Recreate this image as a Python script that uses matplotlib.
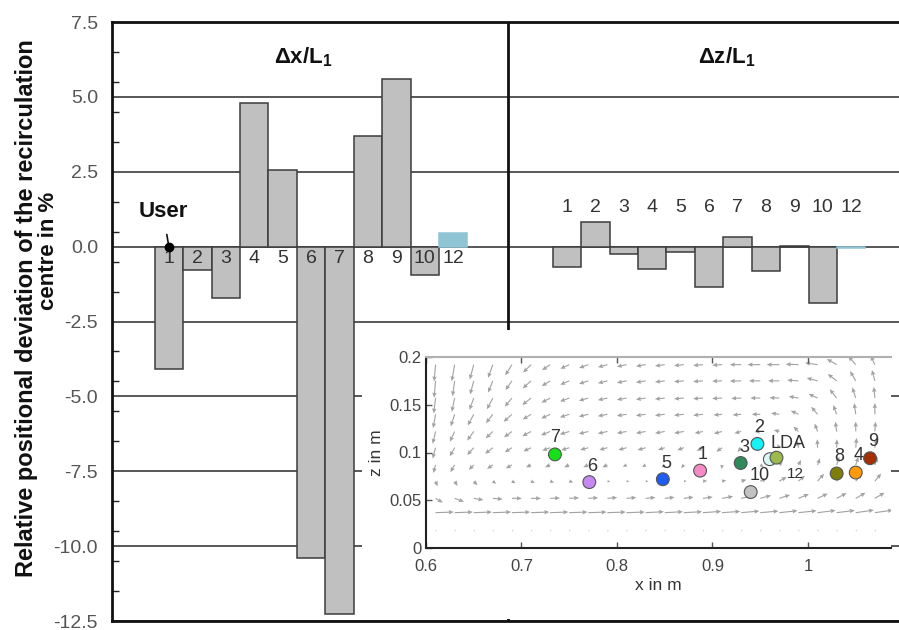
import numpy as np
import matplotlib
matplotlib.use("Agg")
import matplotlib.pyplot as plt

plt.rcParams['font.family'] = ['Liberation Sans', 'DejaVu Sans']
plt.rcParams['axes.unicode_minus'] = False
plt.rcParams['mathtext.fontset'] = 'custom'
plt.rcParams['mathtext.rm'] = 'Liberation Sans'
plt.rcParams['mathtext.it'] = 'Liberation Sans:italic'
plt.rcParams['mathtext.bf'] = 'Liberation Sans:bold'

# ---------------------------------------------------------------- data
cases = ['1', '2', '3', '4', '5', '6', '7', '8', '9', '10', '12']
dx_pct = [-4.10, -0.78, -1.70, 4.79, 2.56, -10.39, -12.28, 3.70, 5.60, -0.95, 0.45]
dz_pct = [-0.67, 0.83, -0.25, -0.76, -0.18, -1.34, 0.33, -0.81, 0.03, -1.89, -0.04]
reference_case = '12'
y_ticks = [7.5, 5.0, 2.5, 0.0, -2.5, -5.0, -7.5, -10.0, -12.5]

# recirculation centres found by each participant (x, z in m)
centre_labels = ['1', '2', '3', '4', '5', '6', '7', '8', '9', '10', '12', 'LDA']
centre_x = [0.887, 0.947, 0.9295, 1.050, 0.848, 0.771, 0.735, 1.030, 1.065, 0.940, 0.960, 0.967]
centre_z = [0.081, 0.109, 0.089, 0.079, 0.072, 0.069, 0.098, 0.078, 0.094, 0.0586, 0.093, 0.0946]
centre_colors = ['#f58ac6', '#14f2f6', '#2f8a5a', '#ff9a0a', '#1f5cf0', '#c48af2',
                 '#16e016', '#7f7f06', '#a32f02', '#c2c2c2', '#d8f6f6', '#9cba4c']

# measured LDA velocity field (direction in degrees, arrow length)
field_x = [0.61, 0.63, 0.65, 0.67, 0.69, 0.71, 0.73, 0.75, 0.77, 0.79, 0.81, 0.83,
           0.85, 0.87, 0.89, 0.91, 0.93, 0.95, 0.97, 0.99, 1.01, 1.03, 1.05, 1.07]
field_z = [0.192, 0.175, 0.157, 0.140, 0.122, 0.105, 0.087, 0.070, 0.052, 0.037, 0.018]
field_dir = [
    [265, 260, 255, 250, 238, 225, 215, 205, 200, 195, 192, 190, 188, 186, 185, 183, 180, 180, 180, 178, 172, 150, 132, 115],
    [265, 262, 255, 248, 235, 222, 212, 203, 198, 194, 191, 189, 187, 185, 184, 182, 181, 180, 180, 176, 165, 142, 120, 105],
    [263, 258, 250, 242, 230, 218, 208, 200, 196, 192, 190, 188, 186, 185, 184, 183, 182, 180, 178, 170, 155, 128, 108, 95],
    [260, 252, 242, 232, 222, 212, 205, 198, 194, 191, 189, 188, 187, 186, 186, 186, 185, 180, 172, 155, 130, 110, 98, 90],
    [257, 245, 234, 224, 216, 208, 202, 197, 194, 192, 190, 190, 190, 190, 192, 195, 195, 185, 165, 135, 110, 97, 90, 86],
    [255, 240, 228, 218, 212, 205, 200, 197, 195, 195, 195, 196, 198, 200, 205, 215, 230, 210, 120, 100, 92, 88, 85, 82],
    [255, 240, 225, 215, 210, 205, 205, 205, 205, 205, 208, 212, 220, 230, 245, 265, 290, 330, 40, 62, 70, 72, 72, 70],
    [290, 300, 310, 320, 330, 335, 340, 345, 348, 350, 352, 355, 355, 0, 5, 10, 15, 20, 30, 40, 48, 52, 52, 50],
    [330, 340, 350, 355, 0, 0, 2, 3, 4, 5, 5, 5, 6, 7, 8, 10, 12, 15, 18, 22, 25, 28, 30, 30],
    [2, 2, 2, 2, 2, 2, 2, 2, 2, 2, 2, 3, 3, 3, 4, 4, 5, 5, 6, 6, 7, 7, 8, 8],
    [0, 0, 0, 0, 0, 0, 0, 0, 0, 0, 0, 0, 0, 0, 0, 0, 0, 0, 0, 0, 0, 0, 0, 0],
]
field_len = [
    [12, 12, 11, 10, 9, 8, 7, 7, 7, 7, 7, 7, 7, 7, 7, 7, 8, 9, 9, 9, 9, 8, 8, 7],
    [12, 11, 10, 9, 8, 8, 7, 7, 7, 7, 7, 7, 7, 7, 7, 7, 8, 8, 8, 8, 8, 8, 8, 8],
    [11, 10, 9, 9, 8, 8, 7, 7, 7, 7, 7, 7, 7, 7, 7, 7, 7, 7, 7, 7, 7, 8, 8, 8],
    [10, 9, 9, 8, 8, 7, 7, 7, 7, 7, 7, 7, 7, 7, 7, 6, 6, 6, 6, 6, 7, 7, 8, 8],
    [9, 8, 8, 7, 7, 7, 7, 7, 7, 7, 7, 7, 7, 7, 6, 6, 5, 4, 4, 5, 6, 7, 7, 7],
    [8, 7, 7, 7, 6, 6, 6, 6, 6, 6, 6, 6, 5, 5, 5, 5, 4, 2, 3, 5, 6, 6, 7, 7],
    [6, 6, 5, 5, 5, 4, 4, 4, 4, 4, 3, 3, 3, 3, 3, 3, 3, 3, 3, 4, 5, 6, 6, 6],
    [4, 4, 4, 3, 3, 3, 3, 3, 2, 2, 2, 2, 2, 2, 3, 3, 4, 5, 6, 6, 7, 7, 7, 7],
    [6, 7, 7, 7, 7, 7, 7, 7, 7, 7, 7, 7, 7, 7, 7, 8, 8, 8, 8, 8, 8, 8, 8, 8],
    [13, 13, 13, 13, 13, 13, 13, 13, 13, 13, 13, 13, 13, 13, 13, 13, 13, 13, 13, 13, 13, 13, 13, 13],
    [1, 1, 1, 1, 1, 1, 1, 1, 1, 1, 1, 1, 1, 1, 1, 1, 1, 1, 1, 1, 1, 1, 1, 1],
]

# ---------------------------------------------------------------- figure
W, H = 899, 630
fig = plt.figure(figsize=(W / 100, H / 100), dpi=100)

ax = fig.add_axes([112 / W, (H - 621) / H, (W - 112) / W, (621 - 22) / H])

n = len(cases)
pos_dx = np.arange(n)
pos_dz = pos_dx + 14
divider = 11.93

bar_face = ['#8fc4d4' if c == reference_case else '#c0c0c0' for c in cases]
bar_edge = ['#8fc4d4' if c == reference_case else '#3c3c3c' for c in cases]

ax.bar(pos_dx, dx_pct, width=1.0, color=bar_face, edgecolor=bar_edge, linewidth=1.1, zorder=2)
ax.bar(pos_dz, dz_pct, width=1.0, color=bar_face, edgecolor=bar_edge, linewidth=1.1, zorder=2)

ax.set_xlim(-2, 25.68)
ax.set_ylim(-12.5, 7.5)
ax.set_yticks(y_ticks)
ax.set_yticklabels([f'{v:.1f}' for v in y_ticks])
ax.set_yticks(np.arange(-11.5, 7.5, 1.0), minor=True)
ax.set_xticks([])
ax.grid(axis='y', which='major', color='#4a4a4a', linewidth=1.3, zorder=1)
ax.set_axisbelow(True)
ax.tick_params(axis='y', which='major', length=0, pad=10, labelsize=14, labelcolor='#555555')
ax.tick_params(axis='y', which='minor', direction='in', length=5, width=1.0, color='#222222')
for side in ('left', 'top', 'bottom'):
    ax.spines[side].set_linewidth(2.0)
    ax.spines[side].set_color('#111111')
ax.spines['right'].set_visible(False)

ax.axvline(divider, color='#111111', linewidth=2.0, zorder=3)

# case numbers
for p, c in zip(pos_dx, cases):
    ax.text(p, -0.38, c, ha='center', va='center', fontsize=14, color='#333333', zorder=4)
for p, c in zip(pos_dz, cases):
    ax.text(p, 1.29, c, ha='center', va='center', fontsize=14, color='#333333', zorder=4)

ax.text(4.73, 6.33, r'$\mathbf{\Delta x/L_1}$', ha='center', va='center', fontsize=16, color='#111111')
ax.text(19.63, 6.33, r'$\mathbf{\Delta z/L_1}$', ha='center', va='center', fontsize=16, color='#111111')

ax.annotate('User', xy=(pos_dx[0], 0.0), xytext=(-6, 35), textcoords='offset pixels',
            ha='center', va='center', fontsize=16, fontweight='bold', color='#111111',
            arrowprops=dict(arrowstyle='-', color='#111111', lw=1.2, shrinkA=7, shrinkB=0),
            zorder=5)
ax.plot([pos_dx[0]], [0.0], 'o', color='#000000', markersize=6, zorder=5)

fig.text(27 / W, 1 - 308 / H, 'Relative positional deviation of the recirculation',
         rotation=90, ha='center', va='center', fontsize=17, fontweight='bold', color='#111111')
fig.text(48 / W, 1 - 251 / H, 'centre in %',
         rotation=90, ha='center', va='center', fontsize=16, fontweight='bold', color='#111111')

# ---------------------------------------------------------------- inset
backdrop = fig.add_axes([362 / W, (H - 619) / H, (891 - 362) / W, (619 - 330) / H])
backdrop.set_facecolor('white')
backdrop.set_xticks([])
backdrop.set_yticks([])
for sp in backdrop.spines.values():
    sp.set_visible(False)

ins = fig.add_axes([426 / W, (H - 548) / H, (891 - 426) / W, (548 - 357) / H])
ins.set_xlim(0.6, 0.6 + 465 / 955)
ins.set_ylim(0, 0.2)

FX, FZ = np.meshgrid(field_x, field_z)
ang = np.deg2rad(np.array(field_dir, dtype=float))
ln = np.array(field_len, dtype=float)
ins.quiver(FX, FZ, ln * np.cos(ang), ln * np.sin(ang), angles='xy', scale_units='xy',
           scale=680, color='#a2a2a2', width=0.0024, headwidth=4, headlength=4.5,
           headaxislength=4, minlength=0.6, zorder=1)

ins.scatter(centre_x, centre_z, s=85, c=centre_colors, edgecolors='#555555', linewidths=0.8, zorder=3)

label_offsets = {'1': (3, 16), '2': (2, 16), '3': (4, 16), '4': (3, 17), '5': (3, 16),
                 '6': (3, 16), '7': (0, 17), '8': (3, 17), '9': (3, 17), '10': (9, 17),
                 '12': (26, -15), 'LDA': (12, 14)}
for lab, x, z in zip(centre_labels, centre_x, centre_z):
    ins.annotate(lab, xy=(x, z), xytext=label_offsets[lab], textcoords='offset pixels',
                 ha='center', va='center', fontsize=11 if lab == '12' else 13,
                 color='#333333', zorder=4)

ins.set_xticks([0.6, 0.7, 0.8, 0.9, 1.0])
ins.set_xticklabels(['0.6', '0.7', '0.8', '0.9', '1'])
ins.set_yticks([0, 0.05, 0.1, 0.15, 0.2])
ins.set_yticklabels(['0', '0.05', '0.1', '0.15', '0.2'])
ins.tick_params(direction='in', length=4, width=1, top=True, labelsize=12,
                labelcolor='#444444', color='#555555', pad=3)
ins.tick_params(axis='x', pad=8)
ins.set_xlabel('x in m', fontsize=12.5, color='#333333', labelpad=3)
ins.set_ylabel('z in m', fontsize=12.5, color='#333333', labelpad=4)
ins.spines['left'].set_color('#222222')
ins.spines['bottom'].set_color('#222222')
ins.spines['left'].set_linewidth(1.5)
ins.spines['bottom'].set_linewidth(1.5)
ins.spines['top'].set_color('#b0b0b0')
ins.spines['top'].set_linewidth(1.5)
ins.spines['right'].set_visible(False)

fig.savefig('out.png', dpi=100)
